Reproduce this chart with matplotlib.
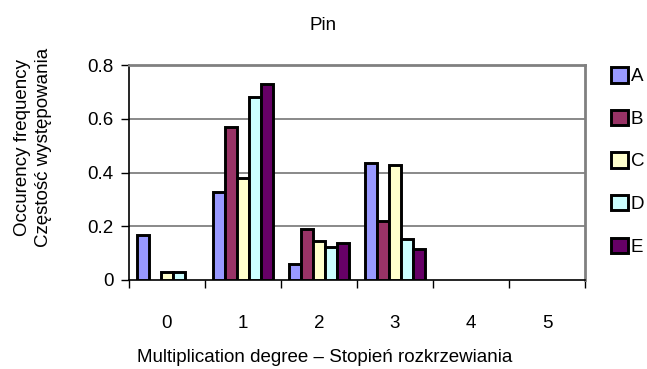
import matplotlib
matplotlib.use("Agg")
import matplotlib.pyplot as plt
from matplotlib.patches import Patch
import numpy as np

plt.rcParams['font.family'] = ['Liberation Sans', 'DejaVu Sans']

categories = ['0', '1', '2', '3', '4', '5']
series_names = ['A', 'B', 'C', 'D', 'E']
A = [0.167, 0.326, 0.06, 0.435, 0, 0]
B = [0.0, 0.568, 0.19, 0.218, 0, 0]
C = [0.03, 0.38, 0.146, 0.428, 0, 0]
D = [0.03, 0.68, 0.124, 0.151, 0, 0]
E = [0.0, 0.73, 0.139, 0.114, 0, 0]
series = [A, B, C, D, E]
colors = ['#9999FF', '#993366', '#FFFFCC', '#CCFFFF', '#660066']
yticks = [0, 0.2, 0.4, 0.6, 0.8]
ytick_labels = ['0', '0.2', '0.4', '0.6', '0.8']

FS = 13.5
W, H = 647, 369
fig = plt.figure(figsize=(W/100, H/100), dpi=100)
ax = fig.add_axes([129/W, 1-280/H, 456/W, 215/H])

n = len(series)
x = np.arange(len(categories))
w = 12/76
for i, (vals, col, name) in enumerate(zip(series, colors, series_names)):
    offs = (i - (n-1)/2) * w
    edges = ['black' if v > 0 else 'none' for v in vals]
    ax.bar(x + offs, vals, width=w, color=col, edgecolor=edges, linewidth=2.1,
           zorder=3)

ax.set_xlim(-0.5, len(categories)-0.5)
ax.set_ylim(0, 0.8)
ax.set_yticks(yticks)
ax.set_yticklabels(ytick_labels, fontsize=FS)
ax.set_xticks(x)
ax.set_xticklabels(categories, fontsize=FS)
ax.set_xticks(np.arange(-0.5, len(categories)), minor=True)
ax.tick_params(axis='x', which='major', length=0, pad=25)
ax.tick_params(axis='x', which='minor', length=6, width=1, direction='out', color='black')
ax.tick_params(axis='y', length=6, width=1, direction='out', color='black', pad=5)
for yv in yticks[1:-1]:
    ax.axhline(yv, color='#808080', linewidth=1.3, zorder=1)
ax.spines['top'].set_color('#808080')
ax.spines['right'].set_color('#808080')
ax.spines['top'].set_linewidth(2)
ax.spines['right'].set_linewidth(2)
ax.spines['left'].set_color('black')
ax.spines['bottom'].set_color('black')
ax.spines['left'].set_linewidth(1.2)
ax.spines['bottom'].set_linewidth(1.2)

fig.text(323/W, 1-25/H, 'Pin', fontsize=FS, ha='center', va='center')
fig.text(325/W, 1-357/H, 'Multiplication degree \u2013 Stopie\u0144 rozkrzewiania',
         fontsize=FS, ha='center', va='center')
fig.text(33/W, 1-147/H, 'Occurency frequency\nCz\u0119sto\u015b\u0107 wyst\u0119powania',
         fontsize=FS, ha='center', va='center', rotation=90, linespacing=1.3)

handles = [Patch(facecolor=c, edgecolor='black', linewidth=2.1, label=nm)
           for c, nm in zip(colors, series_names)]
leg = ax.legend(handles=handles, loc='upper left', bbox_to_anchor=(611/W, 1-67/H),
                bbox_transform=fig.transFigure,
                frameon=False, fontsize=FS, handlelength=0.9, handleheight=0.9,
                handletextpad=0.15, labelspacing=1.3, borderaxespad=0, borderpad=0)

fig.savefig('out.png', dpi=100)
